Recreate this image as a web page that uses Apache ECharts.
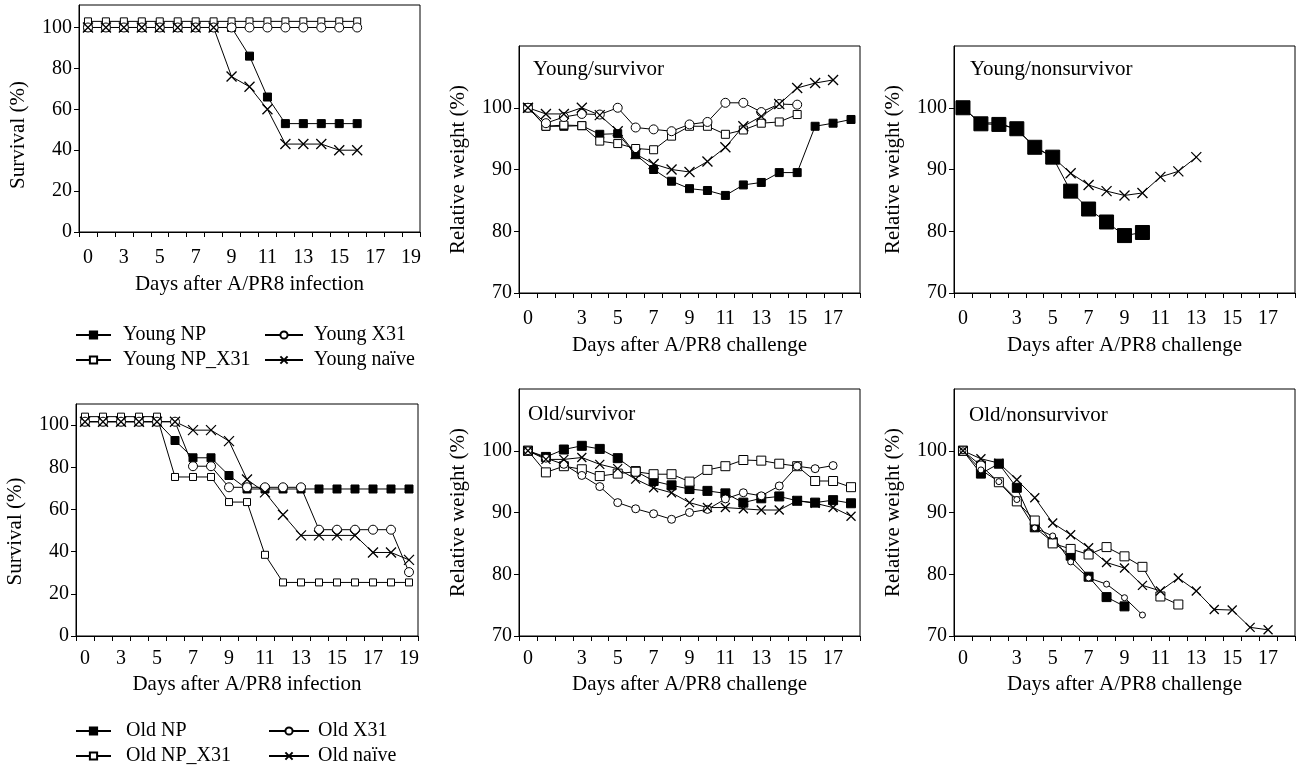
<!DOCTYPE html>
<html><head><meta charset="utf-8">
<script src="https://cdn.jsdelivr.net/npm/echarts@6/dist/echarts.min.js"></script>
<style>html,body{margin:0;padding:0;background:#fff}#c{width:1301px;height:771px}</style>
</head><body><div id="c"></div>
<script>
// ---- tick labels ----
const survivalDays = ['0','','3','','5','','7','','9','','11','','13','','15','','17','','19'];
const weightDays = ['0','','','3','','5','','7','','9','','11','','13','','15','','17',''];
const survivalTicks = [0,20,40,60,80,100];
const weightTicks = [70,80,90,100];

// ---- Young: survival ----
const youngSurvNP    = [100,100,100,100,100,100,100,100,100,86,66,53,53,53,53,53];
const youngSurvNPX31 = [103,103,103,103,103,103,103,103,103,103,103,103,103,103,103,103];
const youngSurvX31   = [100,100,100,100,100,100,100,100,100,100,100,100,100,100,100,100];
const youngSurvNaive = [100,100,100,100,100,100,100,100,76,71,60,43,43,43,40,40];

// ---- Young/survivor: relative weight ----
const youngSurvivorNP    = [100,97.0,97.0,97.1,95.7,95.8,92.4,90.0,88.1,86.9,86.6,85.8,87.5,87.9,89.5,89.5,97.0,97.5,98.1];
const youngSurvivorNPX31 = [100,97.0,97.2,97.1,94.6,94.2,93.4,93.2,95.4,97.0,97.0,95.7,96.4,97.5,97.7,98.9];
const youngSurvivorX31   = [100,97.5,98.5,99.0,98.9,100.0,96.8,96.5,96.2,97.3,97.7,100.8,100.8,99.3,100.6,100.5];
const youngSurvivorNaive = [100,99.0,99.0,100.0,98.8,96.2,92.5,90.9,90.0,89.6,91.3,93.6,97.0,98.6,100.6,103.2,104.0,104.5];

// ---- Young/nonsurvivor: relative weight ----
const youngNonsurvNP    = [100,97.4,97.3,96.6,93.6,92.0,86.5,83.6,81.5,79.3,79.8];
const youngNonsurvNaive = [100,97.5,97.6,96.4,93.7,92.0,89.4,87.5,86.5,85.8,86.2,88.8,89.7,92.0];

// ---- Old: survival ----
const oldSurvNP    = [101.6,101.6,101.6,101.6,101.6,92.7,84.5,84.5,76.1,69.7,69.7,69.7,69.7,69.7,69.7,69.7,69.7,69.7,69.7];
const oldSurvNPX31 = [104,104,104,104,104,75.4,75.4,75.4,63.5,63.5,38.5,25.4,25.4,25.4,25.4,25.4,25.4,25.4,25.4];
const oldSurvX31   = [101.6,101.6,101.6,101.6,101.6,101.6,80.5,80.5,70.5,70.5,70.5,70.5,70.5,50.4,50.4,50.4,50.4,50.4,30.3];
const oldSurvNaive = [101.6,101.6,101.6,101.6,101.6,101.6,97.6,97.6,92.4,74.2,68.1,57.5,47.7,47.7,47.7,47.7,39.6,39.6,36.1];

// ---- Old/survivor: relative weight ----
const oldSurvivorNP    = [100,99.0,100.2,100.8,100.3,98.8,96.7,95.1,94.4,93.8,93.5,93.1,91.6,92.3,92.6,91.9,91.6,92.0,91.5];
const oldSurvivorNPX31 = [100,96.5,97.5,97.0,95.9,96.3,96.6,96.2,96.2,95.0,96.9,97.5,98.5,98.4,97.9,97.5,95.1,95.1,94.1];
const oldSurvivorX31   = [100,98.8,97.8,96.0,94.2,91.6,90.6,89.8,88.9,90.0,90.5,92.2,93.2,92.7,94.3,97.5,97.1,97.6];
const oldSurvivorNaive = [100,98.6,98.6,98.9,97.8,97.1,95.4,94.0,93.2,91.6,90.8,90.8,90.6,90.4,90.4,91.9,91.5,90.8,89.4];

// ---- Old/nonsurvivor: relative weight ----
const oldNonsurvNP    = [100,96.3,97.9,94.0,87.6,85.2,83.0,79.6,76.3,74.8];
const oldNonsurvNPX31 = [100,97.6,94.9,91.8,88.7,85.0,84.1,83.2,84.4,82.9,81.2,76.4,75.1];
const oldNonsurvX31   = [100,96.9,95.0,92.1,87.5,86.2,82.0,79.4,78.4,76.2,73.4];
const oldNonsurvNaive = [100,98.7,98.0,95.3,92.4,88.3,86.4,84.3,81.9,81.0,78.2,77.3,79.4,77.3,74.3,74.2,71.4,71.0];

const FF = '"Liberation Serif", "Times New Roman", serif';
const CROSS = 'path://M0,0L10,10M10,0L0,10';
const MARK = {
  np:    {symbol:'rect',   fill:'#000', bw:1},
  npx:   {symbol:'rect',   fill:'#fff', bw:1},
  x31:   {symbol:'circle', fill:'#fff', bw:1},
  naive: {symbol:CROSS,    fill:'#000', bw:1.3}
};
function mk(name, data, gi, kind, size) {
  const m = MARK[kind];
  return {
    type:'line', name, data, xAxisIndex:gi, yAxisIndex:gi,
    symbol:m.symbol, symbolSize:size, showAllSymbol:true, color:'#000',
    lineStyle:{color:'#000', width:1},
    itemStyle:{color:m.fill, borderColor:'#000', borderWidth:m.bw},
    emphasis:{disabled:true}, silent:true
  };
}
const grids = [
  {left:79,  top:5,     width:341, height:227},
  {left:519, top:46,    width:341, height:247},
  {left:954, top:46,    width:341, height:247},
  {left:76,  top:404,   width:342, height:232},
  {left:519, top:389,   width:341, height:247},
  {left:954, top:389,   width:341, height:247}
].map(g => Object.assign({show:true, borderColor:'#000', borderWidth:1, backgroundColor:'transparent'}, g));

function xAx(gi, labels, name, margin, nameGap) {
  return {
    type:'category', gridIndex:gi, data:labels, boundaryGap:true,
    axisLine:{show:true, lineStyle:{color:'#000', width:1}},
    axisTick:{show:true, interval:0, alignWithLabel:false, length:5, lineStyle:{color:'#000'}},
    axisLabel:{interval:0, color:'#000', fontSize:20, fontFamily:FF, margin},
    splitLine:{show:false},
    name, nameLocation:'middle', nameGap,
    nameTextStyle:{color:'#000', fontSize:21, fontFamily:FF}
  };
}
function yAx(gi, min, max, ticks, name, pad) {
  return {
    type:'value', gridIndex:gi, min, max,
    axisLine:{show:true, lineStyle:{color:'#000', width:1}},
    axisTick:{show:true, length:5, customValues:ticks, lineStyle:{color:'#000'}},
    axisLabel:{customValues:ticks, color:'#000', fontSize:20, fontFamily:FF, margin:7},
    splitLine:{show:false},
    name, nameLocation:'middle', nameGap:50,
    nameTextStyle:{color:'#000', fontSize:21, fontFamily:FF, padding:pad}
  };
}
function legend(left, top, names, iw, tp) {
  return {
    left, top, data:names, padding:0,
    orient:'vertical', itemWidth:iw, itemHeight:9, itemGap:1, selectedMode:false,
    textStyle:{color:'#000', fontSize:20, fontFamily:FF, lineHeight:24, padding:[0,0,0,tp]}
  };
}
const option = {
  animation:false,
  backgroundColor:'#fff',
  grid:grids,
  title:[
    {text:'Young/survivor',    left:533, top:59},
    {text:'Young/nonsurvivor', left:970, top:59},
    {text:'Old/survivor',      left:528, top:404},
    {text:'Old/nonsurvivor',   left:969, top:405}
  ].map(t => Object.assign({padding:0, textStyle:{color:'#000', fontSize:21, fontWeight:'normal', fontFamily:FF}}, t)),
  legend:[
    legend(75,  323, ['Young NP','Young NP_X31'], 35, 7),
    legend(264, 323, ['Young X31','Young naïve'], 38, 6),
    legend(75,  719, ['Old NP','Old NP_X31'], 35, 10),
    legend(268, 719, ['Old X31','Old naïve'], 40, 4)
  ],
  xAxis:[
    xAx(0, survivalDays, 'Days after A/PR8 infection', 16, 42),
    xAx(1, weightDays,   'Days after A/PR8 challenge', 16, 42),
    xAx(2, weightDays,   'Days after A/PR8 challenge', 16, 42),
    xAx(3, survivalDays, 'Days after A/PR8 infection', 13, 38),
    xAx(4, weightDays,   'Days after A/PR8 challenge', 13, 38),
    xAx(5, weightDays,   'Days after A/PR8 challenge', 13, 38)
  ],
  yAxis:[
    yAx(0, 0, 111, survivalTicks, 'Survival (%)', [0,33,0,0]),
    yAx(1, 70, 110, weightTicks, 'Relative weight (%)', 0),
    yAx(2, 70, 110, weightTicks, 'Relative weight (%)', 0),
    yAx(3, 0, 110, survivalTicks, 'Survival (%)', [0,23,0,0]),
    yAx(4, 70, 110, weightTicks, 'Relative weight (%)', 0),
    yAx(5, 70, 110, weightTicks, 'Relative weight (%)', 0)
  ],
  series:[
    mk('Young NP',     youngSurvNP,    0, 'np', 8),
    mk('Young NP_X31', youngSurvNPX31, 0, 'npx', 7),
    mk('Young X31',    youngSurvX31,   0, 'x31', 9),
    mk('Young naïve',  youngSurvNaive, 0, 'naive', 10),

    mk('Young NP',     youngSurvivorNP,    1, 'np', 8),
    mk('Young NP_X31', youngSurvivorNPX31, 1, 'npx', 8),
    mk('Young X31',    youngSurvivorX31,   1, 'x31', 9),
    mk('Young naïve',  youngSurvivorNaive, 1, 'naive', 10),

    mk('Young NP',     youngNonsurvNP,    2, 'np', 14),
    mk('Young naïve',  youngNonsurvNaive, 2, 'naive', 10),

    mk('Old NP',     oldSurvNP,    3, 'np', 8),
    mk('Old NP_X31', oldSurvNPX31, 3, 'npx', 7),
    mk('Old X31',    oldSurvX31,   3, 'x31', 9),
    mk('Old naïve',  oldSurvNaive, 3, 'naive', 10),

    mk('Old NP',     oldSurvivorNP,    4, 'np', 9),
    mk('Old NP_X31', oldSurvivorNPX31, 4, 'npx', 9),
    mk('Old X31',    oldSurvivorX31,   4, 'x31', 8),
    mk('Old naïve',  oldSurvivorNaive, 4, 'naive', 9),

    mk('Old NP',     oldNonsurvNP,    5, 'np', 9),
    mk('Old NP_X31', oldNonsurvNPX31, 5, 'npx', 9),
    mk('Old X31',    oldNonsurvX31,   5, 'x31', 6),
    mk('Old naïve',  oldNonsurvNaive, 5, 'naive', 9)
  ]
};
const chart = echarts.init(document.getElementById('c'), null, {renderer:'canvas'});
chart.setOption(option);
</script>
</body></html>
